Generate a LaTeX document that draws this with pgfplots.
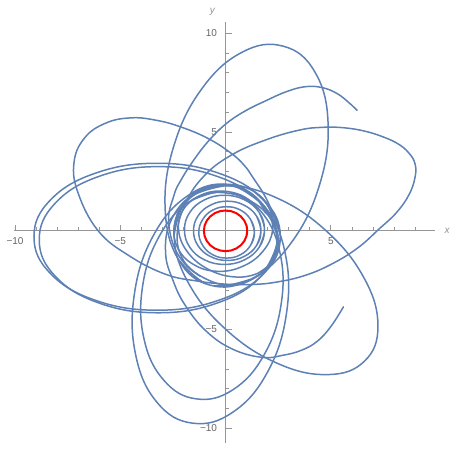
\documentclass[border=0pt]{standalone}
\usepackage{pgfplots}
\pgfplotsset{compat=1.18}
\usepackage{fontspec}
\setmainfont{Liberation Sans}
\definecolor{mblue}{RGB}{94,129,181}
\definecolor{axgray}{RGB}{150,150,150}
\definecolor{lblgray}{RGB}{100,100,100}
\begin{document}
\begin{tikzpicture}
\begin{axis}[
  scale only axis, width=421pt, height=421.6pt,
  xmin=-10.05, xmax=9.95, ymin=-10.76, ymax=10.59,
  axis lines=middle, clip=false,
  axis line style={axgray, line width=0.8pt, -},
  xtick={-10,-5,5}, xticklabels={−10,−5,5},
  ytick={-10,-5,5,10}, yticklabels={−10,−5,5,10},
  minor xtick={-9,-8,-7,-6,-4,-3,-2,-1,1,2,3,4,6,7,8,9},
  minor ytick={-9,-8,-7,-6,-4,-3,-2,-1,1,2,3,4,6,7,8,9},
  tick align=inside,
  major tick length=6pt, minor tick length=3.5pt,
  tick style={axgray, line width=0.7pt},
  ticklabel style={font=\fontsize{10}{12}\selectfont, text=lblgray},
  xticklabel style={yshift=-3pt},
  yticklabel style={xshift=-5pt},
  xlabel={\textit{x}}, ylabel={\textit{y}},
  label style={font=\fontsize{10}{12}\selectfont, text=lblgray!70},
  xlabel style={anchor=west, xshift=6pt},
  ylabel style={anchor=south, xshift=-13pt, yshift=3pt},
  orb/.style={mblue, line width=1.5pt, no marks, solid, line join=round, line cap=round, smooth, tension=0.7},
]
% petal A (top)
\addplot[orb] coordinates {
(-2.24,-1.45) (-0.74,-2.75) (1.22,-2.44) (3.13,-0.59) (4.46,2.31) (4.87,5.47)
(4.24,8.05) (2.74,9.35) (0.78,9.04) (-1.13,7.19) (-2.46,4.29) (-2.87,1.13)
(-2.24,-1.45) (-0.74,-2.75) (1.22,-2.44)};
% arc G (upper right end)
\addplot[orb] coordinates {
(1.8,-2.1) (0.5,-2.75) (-1.0,-2.4) (-2.2,-1.3) (-2.7,0.4) (-2.45,1.8) (-2.1,2.6)
(-1.5,3.6) (-0.8,4.56) (0,5.4) (0.9,6.05) (1.9,6.58) (2.9,7.05) (3.8,7.3)
(4.6,7.25) (5.3,6.95) (5.85,6.5) (6.25,6.1)};
% petals D and B
\addplot[orb] coordinates {
(2.5,0.2) (1.95,1.6) (1.3,2.7) (0.9,3.3) (0.3,3.9) (-0.8,4.66) (-2.1,5.25) (-3.3,5.6)
(-4.5,5.72) (-5.7,5.45) (-6.7,4.7) (-7.2,3.45) (-7.0,1.9) (-6.05,0) (-4.6,-1.25)
(-2.85,-2.2) (-1.3,-2.55) (0,-2.7) (1.2,-2.72) (2.4,-2.6) (3.8,-2.25) (5.1,-1.65)
(6.3,-0.85) (7.3,0.1) (8.1,0.9) (8.7,1.8) (9.0,2.7) (9.0,3.4) (8.7,3.95)
(8.2,4.4) (7.5,4.75) (6.6,5.05) (5.6,5.22) (4.6,5.24) (3.5,5.1) (1.9,4.6) (0.3,3.85)
(-1.0,2.8) (-1.9,1.4) (-2.3,-0.2) (-2.0,-1.5) (-1.2,-2.3)};
% petal C (left, outer)
\addplot[orb] coordinates {
(1.82,-2.16) (2.6,-0.3) (1.82,1.56) (-0.33,2.92) (-3.25,3.42) (-6.18,2.92)
(-8.32,1.56) (-9.1,-0.3) (-8.32,-2.16) (-6.18,-3.52) (-3.25,-4.02) (-0.33,-3.52)
(1.82,-2.16) (2.6,-0.3) (1.82,1.56)};
% petal C (left, inner)
\addplot[orb] coordinates {
(1.69,-2.30) (2.45,-0.45) (1.69,1.40) (-0.38,2.75) (-3.2,3.25) (-6.03,2.75)
(-8.09,1.40) (-8.85,-0.45) (-8.09,-2.30) (-6.03,-3.65) (-3.2,-4.15) (-0.38,-3.65)
(1.69,-2.30) (2.45,-0.45) (1.69,1.40)};
% petal F (bottom, outer)
\addplot[orb] coordinates {
(1.82,1.28) (0.13,2.34) (-1.79,1.78) (-3.43,-0.24) (-4.33,-3.19) (-4.27,-6.28)
(-3.26,-8.68) (-1.57,-9.74) (0.35,-9.18) (1.99,-7.16) (2.89,-4.21) (2.83,-1.12)
(1.82,1.28) (0.13,2.34) (-1.79,1.78)};
% petal F (bottom, inner)
\addplot[orb] coordinates {
(1.63,1.05) (0.09,1.99) (-1.66,1.52) (-3.13,-0.24) (-3.94,-2.80) (-3.87,-5.49)
(-2.93,-7.57) (-1.39,-8.51) (0.36,-8.04) (1.83,-6.28) (2.64,-3.72) (2.57,-1.04)
(1.63,1.05) (0.09,1.99) (-1.66,1.52)};
% petal E (lower right)
\addplot[orb] coordinates {
(-0.04,2.28) (-1.80,1.60) (-2.44,-0.19) (-1.79,-2.59) (-0.01,-4.97) (2.42,-6.69)
(4.84,-7.28) (6.60,-6.60) (7.24,-4.81) (6.59,-2.41) (4.81,-0.03) (2.38,1.69)
(-0.04,2.28) (-1.80,1.60) (-2.44,-0.19)};
% arc H (lower right end)
\addplot[orb] coordinates {
(1.9,0.9) (1.2,1.9) (-0.2,2.3) (-1.6,1.8) (-2.6,0.5) (-2.85,-1.1) (-2.5,-2.5)
(-1.9,-3.8) (-0.9,-5.1) (0.35,-6.0) (1.75,-6.41) (2.73,-6.3) (3.6,-6.05)
(4.35,-5.6) (5.0,-4.85) (5.6,-3.85)};
% inner loops
\addplot[orb] coordinates {
(1.19,-0.73) (1.37,-0.08) (1.19,0.57) (0.71,1.05) (0.05,1.22) (-0.61,1.05) (-1.09,0.57)
(-1.27,-0.08) (-1.09,-0.73) (-0.61,-1.21) (0.05,-1.38) (0.71,-1.21) (1.19,-0.73)
(1.37,-0.08) (1.19,0.57)};
\addplot[orb] coordinates {
(1.47,-0.75) (1.68,0) (1.47,0.75) (0.88,1.3) (0.08,1.5) (-0.72,1.3) (-1.31,0.75) (-1.52,0)
(-1.31,-0.75) (-0.72,-1.3) (0.08,-1.5) (0.88,-1.3) (1.47,-0.75) (1.68,0) (1.47,0.75)};
\addplot[orb] coordinates {
(1.6,-0.83) (1.85,0.05) (1.6,0.93) (0.9,1.57) (-0.05,1.8) (-1.0,1.57) (-1.7,0.93) (-1.95,0.05)
(-1.7,-0.83) (-1.0,-1.47) (-0.05,-1.7) (0.9,-1.47) (1.6,-0.83) (1.85,0.05) (1.6,0.93)};
\addplot[orb] coordinates {
(2.24,0.05) (2.07,1.17) (1.33,2.0) (0.2,2.35) (-1.01,2.1) (-1.98,1.33) (-2.44,0.25)
(-2.27,-0.87) (-1.53,-1.7) (-0.4,-2.05) (0.81,-1.8) (1.78,-1.03) (2.24,0.05)
(2.07,1.17) (1.33,2.0)};
\addplot[orb] coordinates {
(1.53,-2.15) (2.32,-1.45) (2.52,-0.42) (2.1,0.68) (1.15,1.53) (-0.07,1.93) (-1.23,1.75)
(-2.02,1.05) (-2.23,0.02) (-1.8,-1.08) (-0.85,-1.93) (0.37,-2.33) (1.53,-2.15)
(2.32,-1.45) (2.52,-0.42)};
% red circle
\addplot[orb, red, line width=2pt] coordinates {
(0.995,-0.267) (1.03,0) (0.995,0.267) (0.892,0.515) (0.728,0.728) (0.515,0.892) (0.267,0.995)
(0,1.03) (-0.267,0.995) (-0.515,0.892) (-0.728,0.728) (-0.892,0.515) (-0.995,0.267)
(-1.03,0) (-0.995,-0.267) (-0.892,-0.515) (-0.728,-0.728) (-0.515,-0.892) (-0.267,-0.995)
(0,-1.03) (0.267,-0.995) (0.515,-0.892) (0.728,-0.728) (0.892,-0.515) (0.995,-0.267)
(1.03,0) (0.995,0.267)};
\end{axis}
\pgfresetboundingbox
\useasboundingbox ([xshift=-14pt,yshift=-8.7pt]current axis.south west) rectangle ([xshift=33pt,yshift=21.7pt]current axis.north east);
\end{tikzpicture}
\end{document}
